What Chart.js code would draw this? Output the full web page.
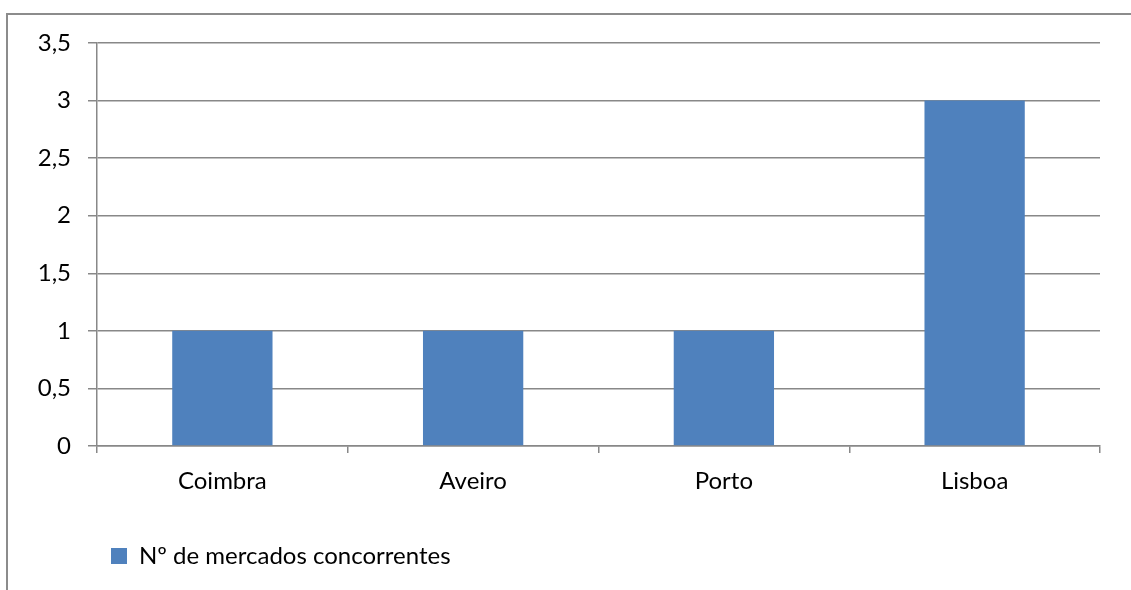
<!DOCTYPE html>
<html>
<head>
<meta charset="utf-8">
<script src="https://cdn.jsdelivr.net/npm/chart.js@4.4.0/dist/chart.umd.min.js"></script>
<style>
  body { margin: 0; background: #fff; }
  #wrap { width: 1131px; height: 590px; position: relative; }
</style>
</head>
<body>
<div id="wrap"><canvas id="chart"></canvas></div>
<script>
const categories = ['Coimbra', 'Aveiro', 'Porto', 'Lisboa'];
const seriesLabel = 'Nº de mercados concorrentes';
const values = [1, 1, 1, 3];
const yMin = 0;
const yMax = 3.5;
const yStep = 0.5;

const gridColor = '#888888';
const fontFamily = 'Lato, "Open Sans", sans-serif';

// white page + outer frame, and shift the legend to the left like the original
const framePlugin = {
    id: 'frame',
    beforeDraw(chart) {
        const c = chart.ctx;
        c.save();
        c.fillStyle = '#fff';
        c.fillRect(0, 0, chart.width, chart.height);
        c.strokeStyle = '#8c8c8c';
        c.lineWidth = 2;
        c.strokeRect(7, 14, 2000, 2000);
        c.restore();
    },
    afterLayout(chart) {
        chart.legend.left = 101;
    }
};

const ctx = document.getElementById('chart');

var chart = new Chart(ctx, {
    type: 'bar',
    data: {
        labels: categories,
        datasets: [{
            label: seriesLabel,
            data: values,
            backgroundColor: '#4f81bd',
            borderWidth: 0,
            categoryPercentage: 1,
            barPercentage: 0.4
        }]
    },
    options: {
        responsive: true,
        maintainAspectRatio: false,
        animation: false,
        layout: {
            padding: { top: 43, right: 31, bottom: 12, left: 0 }
        },
        plugins: {
            tooltip: { enabled: false },
            legend: {
                display: true,
                position: 'bottom',
                align: 'start',
                labels: {
                    color: '#000',
                    boxWidth: 16,
                    boxHeight: 16,
                    padding: 10,
                    font: { size: 24, family: fontFamily }
                }
            }
        },
        scales: {
            x: {
                grid: {
                    display: true,
                    drawOnChartArea: false,
                    drawTicks: true,
                    tickLength: 7,
                    color: gridColor,
                    lineWidth: 1.5
                },
                border: { display: true, color: gridColor, width: 1.5 },
                ticks: {
                    color: '#000',
                    padding: 14,
                    font: { size: 24, family: fontFamily }
                },
                afterFit(scale) {
                    scale.height = 88;
                }
            },
            y: {
                min: yMin,
                max: yMax,
                grid: {
                    color: gridColor,
                    lineWidth: 1.5,
                    tickLength: 9
                },
                border: { display: true, color: gridColor, width: 1.5 },
                ticks: {
                    stepSize: yStep,
                    color: '#000',
                    padding: 17,
                    font: { size: 24, family: fontFamily },
                    callback: (v) => v.toString().replace('.', ',')
                },
                afterFit(scale) {
                    scale.width = 97;
                }
            }
        }
    },
    plugins: [framePlugin]
});
</script>
</body>
</html>
